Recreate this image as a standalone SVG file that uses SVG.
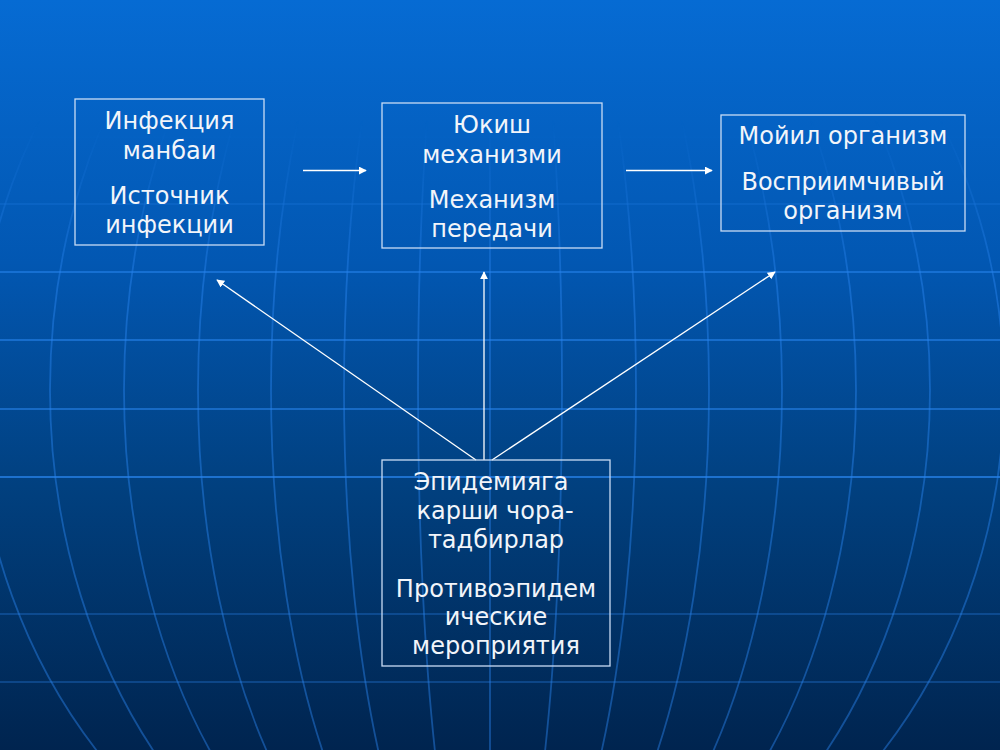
<svg xmlns="http://www.w3.org/2000/svg" width="1000" height="750" viewBox="0 0 1000 750">
  <defs>
    <linearGradient id="bg" x1="0" y1="0" x2="0" y2="1">
      <stop offset="0" stop-color="#066bd3"/>
      <stop offset="0.35" stop-color="#0257b2"/>
      <stop offset="0.65" stop-color="#01407f"/>
      <stop offset="1" stop-color="#00244f"/>
    </linearGradient>
    <linearGradient id="fade" x1="0" y1="0" x2="0" y2="1">
      <stop offset="0" stop-color="#000"/>
      <stop offset="0.16" stop-color="#000"/>
      <stop offset="0.37" stop-color="#fff"/>
      <stop offset="1" stop-color="#fff"/>
    </linearGradient>
    <mask id="gridMask" maskUnits="userSpaceOnUse" x="0" y="0" width="1000" height="750">
      <rect x="0" y="0" width="1000" height="750" fill="url(#fade)"/>
    </mask>
    <marker id="arrow" viewBox="0 0 10 10" refX="9" refY="5" markerWidth="8" markerHeight="8" markerUnits="userSpaceOnUse" orient="auto">
      <path d="M0,0 L10,5 L0,10 z" fill="#ffffff"/>
    </marker>
    <style>
      .grid { fill: none; stroke: #2a86f0; stroke-width: 2; stroke-opacity: 0.55; }
      .mer { stroke-width: 1.8; stroke-opacity: 0.45; }
      .box { fill: none; stroke: #c9dcf5; stroke-width: 1.3; }
      .lbl { font-family: "DejaVu Sans", Verdana, sans-serif; font-size: 24px; fill: #f2f5fa; text-anchor: middle; }
      .conn { stroke: #ffffff; stroke-width: 1.3; fill: none; marker-end: url(#arrow); }
    </style>
  </defs>

  <rect x="0" y="0" width="1000" height="750" fill="url(#bg)"/>

  <g id="globe" mask="url(#gridMask)">
    <g class="grid">
      <line x1="0" y1="137" x2="1000" y2="137" stroke-opacity="0.3"/>
      <line x1="0" y1="204" x2="1000" y2="204" stroke-opacity="0.35"/>
      <line x1="0" y1="272" x2="1000" y2="272"/>
      <line x1="0" y1="340" x2="1000" y2="340"/>
      <line x1="0" y1="409" x2="1000" y2="409"/>
      <line x1="0" y1="477" x2="1000" y2="477" stroke-opacity="0.7"/>
      <line x1="0" y1="614" x2="1000" y2="614" stroke-opacity="0.3"/>
      <line x1="0" y1="682" x2="1000" y2="682" stroke-opacity="0.3"/>
    </g>
    <g class="grid mer">
      <line x1="490" y1="0" x2="490" y2="750"/>
      <ellipse cx="490" cy="390" rx="72" ry="560"/>
      <ellipse cx="490" cy="390" rx="146" ry="560"/>
      <ellipse cx="490" cy="390" rx="219" ry="560"/>
      <ellipse cx="490" cy="390" rx="292" ry="560"/>
      <ellipse cx="490" cy="390" rx="366" ry="560"/>
      <ellipse cx="490" cy="390" rx="440" ry="560"/>
      <ellipse cx="490" cy="390" rx="514" ry="560"/>
    </g>
  </g>

  <g id="connectors">
    <line class="conn" x1="303" y1="170.5" x2="366" y2="170.5"/>
    <line class="conn" x1="626" y1="170.5" x2="712" y2="170.5"/>
    <line class="conn" x1="476" y1="460" x2="217" y2="280"/>
    <line class="conn" x1="484" y1="460" x2="484" y2="272"/>
    <line class="conn" x1="492" y1="460" x2="775" y2="272"/>
  </g>

  <g id="node-source">
    <rect class="box" x="75" y="99" width="189" height="146"/>
    <text class="lbl" x="169.5" y="129">Инфекция</text>
    <text class="lbl" x="169.5" y="159">манбаи</text>
    <text class="lbl" x="169.5" y="204">Источник</text>
    <text class="lbl" x="169.5" y="233">инфекции</text>
  </g>

  <g id="node-mechanism">
    <rect class="box" x="382" y="103" width="220" height="145"/>
    <text class="lbl" x="492" y="133">Юкиш</text>
    <text class="lbl" x="492" y="163">механизми</text>
    <text class="lbl" x="492" y="208">Механизм</text>
    <text class="lbl" x="492" y="237">передачи</text>
  </g>

  <g id="node-organism">
    <rect class="box" x="721" y="115" width="244" height="116"/>
    <text class="lbl" x="843" y="144">Мойил организм</text>
    <text class="lbl" x="843" y="190">Восприимчивый</text>
    <text class="lbl" x="843" y="219">организм</text>
  </g>

  <g id="node-measures">
    <rect class="box" x="382" y="460" width="228" height="206"/>
    <text class="lbl" x="491" y="490">Эпидемияга</text>
    <text class="lbl" x="495" y="519">карши чора-</text>
    <text class="lbl" x="496" y="548">тадбирлар</text>
    <text class="lbl" x="496" y="597">Противоэпидем</text>
    <text class="lbl" x="496" y="625">ические</text>
    <text class="lbl" x="496" y="654">мероприятия</text>
  </g>
</svg>
